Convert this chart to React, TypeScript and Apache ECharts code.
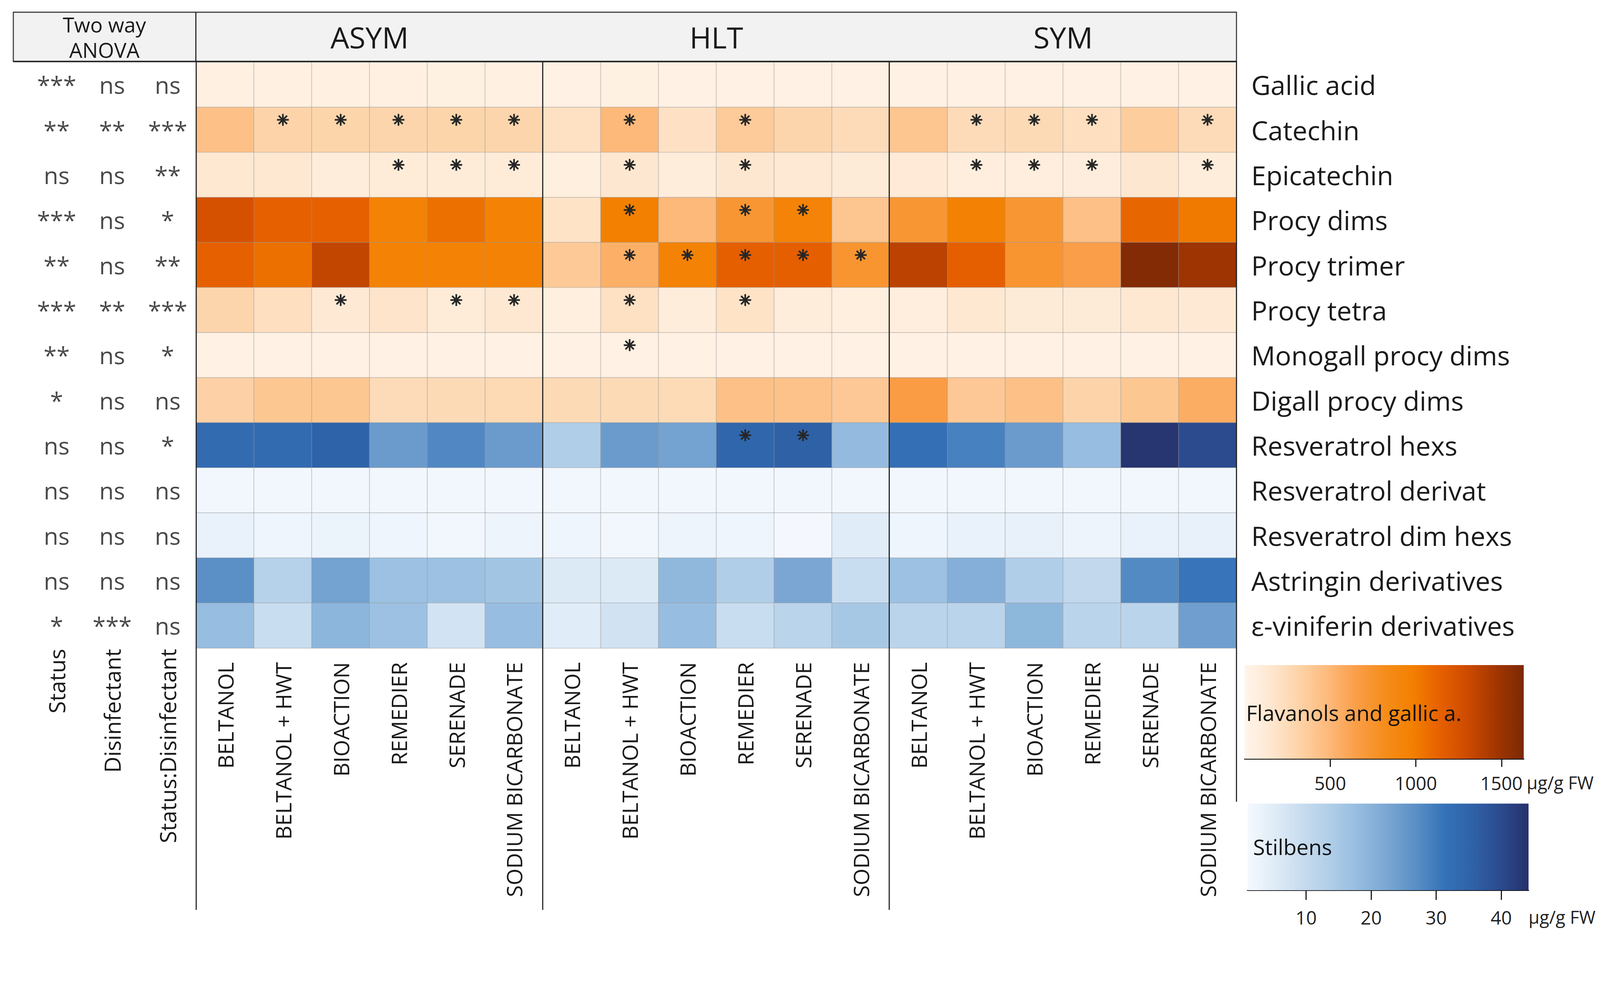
import React, { useEffect, useRef, useState } from "react";
import * as echarts from "echarts";

// ---------- data ----------
const groups = ["ASYM", "HLT", "SYM"];
const treatments = ["BELTANOL", "BELTANOL + HWT", "BIOACTION", "REMEDIER", "SERENADE", "SODIUM BICARBONATE"];
const compounds = [
  "Gallic acid", "Catechin", "Epicatechin", "Procy dims", "Procy trimer", "Procy tetra",
  "Monogall procy dims", "Digall procy dims", "Resveratrol hexs", "Resveratrol derivat",
  "Resveratrol dim hexs", "Astringin derivatives", "ε-viniferin derivatives",
];
const anovaFactors = ["Status", "Disinfectant", "Status:Disinfectant"];

// flavanols (µg/g FW), columns: ASYM x6, HLT x6, SYM x6
const gallicAcid = [50, 52, 50, 50, 48, 50, 45, 48, 46, 47, 45, 46, 46, 47, 46, 45, 46, 47];
const catechin = [440, 310, 305, 300, 305, 300, 210, 490, 200, 370, 300, 250, 410, 250, 260, 220, 360, 250];
const epicatechin = [140, 140, 90, 100, 100, 100, 70, 150, 90, 150, 130, 110, 120, 80, 80, 85, 150, 90];
const procyDims = [1250, 1140, 1140, 950, 1060, 950, 190, 980, 490, 730, 940, 410, 730, 960, 730, 440, 1110, 1010];
const procyTrimer = [1140, 1060, 1340, 950, 950, 950, 380, 550, 950, 1150, 1150, 740, 1370, 1150, 740, 650, 1600, 1490];
const procyTetra = [300, 220, 130, 180, 100, 140, 70, 210, 90, 190, 90, 65, 80, 140, 110, 110, 140, 130];
const monogallProcyDims = [45, 44, 46, 44, 43, 44, 42, 45, 43, 42, 43, 42, 44, 43, 44, 43, 42, 43];
const digallProcyDims = [330, 400, 400, 250, 260, 270, 260, 260, 255, 440, 430, 390, 670, 390, 440, 310, 400, 560];
// stilbenes (µg/g FW)
const resveratrolHexs = [33, 33, 35.4, 24.6, 28, 24.6, 13.5, 24.6, 23.4, 34.5, 35.8, 18.2, 32, 29, 24.6, 17.8, 43.6, 39.7];
const resveratrolDerivat = [1.6, 1.5, 1.5, 1.6, 1.5, 1.5, 1.5, 1.6, 1.5, 1.5, 1.5, 1.6, 1.5, 1.6, 1.5, 1.5, 1.6, 1.5];
const resveratrolDimHexs = [3.2, 2.3, 2.6, 2.3, 1.6, 2.4, 2.2, 1.6, 2.4, 2.3, 1.2, 4.9, 2.2, 3.3, 3.4, 2.5, 3.2, 3.4];
const astringinDerivatives = [26.8, 12.6, 23.4, 16.9, 16.9, 16, 5.7, 5.7, 19, 13.5, 22.5, 9.2, 16.9, 20.8, 13.5, 10.5, 27.7, 31];
const viniferinDerivatives = [17.8, 9.2, 19.4, 16.9, 7.5, 17.8, 4.9, 7.7, 17.8, 9.2, 11.8, 15.2, 11.8, 11.8, 19.2, 11.8, 11.8, 24];

const flavanolRows = [gallicAcid, catechin, epicatechin, procyDims, procyTrimer, procyTetra, monogallProcyDims, digallProcyDims];
const stilbeneRows = [resveratrolHexs, resveratrolDerivat, resveratrolDimHexs, astringinDerivatives, viniferinDerivatives];

// significance asterisks: [row index, column index]
const significantCells = [
  [1, 1], [1, 2], [1, 3], [1, 4], [1, 5], [1, 7], [1, 9], [1, 13], [1, 14], [1, 15], [1, 17],
  [2, 3], [2, 4], [2, 5], [2, 7], [2, 9], [2, 13], [2, 14], [2, 15], [2, 17],
  [3, 7], [3, 9], [3, 10],
  [4, 7], [4, 8], [4, 9], [4, 10], [4, 11],
  [5, 2], [5, 4], [5, 5], [5, 7], [5, 9],
  [6, 7],
  [8, 9], [8, 10],
];

// two-way ANOVA results per compound: Status, Disinfectant, Status:Disinfectant
const anovaStatus = ["***", "**", "ns", "***", "**", "***", "**", "*", "ns", "ns", "ns", "ns", "*"];
const anovaDisinfectant = ["ns", "**", "ns", "ns", "ns", "**", "ns", "ns", "ns", "ns", "ns", "ns", "***"];
const anovaInteraction = ["ns", "***", "**", "*", "**", "***", "*", "ns", "*", "ns", "ns", "ns", "ns"];

const flavanolRange = [0, 1630];
const stilbeneRange = [1, 44.2];
const flavanolTicks = [500, 1000, 1500];
const stilbeneTicks = [10, 20, 30, 40];

const orangePalette = ["#fff5eb", "#fee6ce", "#fdd2a6", "#fdb97a", "#fa9e48", "#f68d1c", "#f38000", "#e66000", "#cc4a00", "#a33600", "#7a2906"];
const bluePalette = ["#f5f9fe", "#deebf7", "#c6dbef", "#aecde7", "#94bbdf", "#7aa6d3", "#5a8fc6", "#3572b8", "#2f62a8", "#2c4a8e", "#26326b"];

const FONT = "Open Sans";
const TXT = "#1a1a1a";
const REF_W = 4322;
const REF_H = 2554;
const ASTERISK = "path://M0,-1L0,1M-1,0L1,0M-0.7071,-0.7071L0.7071,0.7071M-0.7071,0.7071L0.7071,-0.7071";

export default function App() {
  const ref = useRef<HTMLDivElement>(null);
  const [size] = useState(() => {
    document.body.style.margin = "0";
    document.body.style.overflow = "hidden";
    return { w: window.innerWidth || REF_W, h: window.innerHeight || REF_H };
  });

  useEffect(() => {
    if (!ref.current) return;
    const k = Math.min(size.w / REF_W, size.h / REF_H);
    const S = (v: number) => v * k;
    const chart = echarts.init(ref.current, null, { renderer: "svg" });

    const columns: string[] = [];
    groups.forEach((g) => treatments.forEach((t) => columns.push(g + "|" + t)));

    const orangeData: number[][] = [];
    flavanolRows.forEach((row, r) => row.forEach((v, c) => orangeData.push([c, r, v])));
    const blueData: number[][] = [];
    stilbeneRows.forEach((row, r) => row.forEach((v, c) => blueData.push([c, r + flavanolRows.length, v])));

    const anovaData: any[] = [];
    [anovaStatus, anovaDisinfectant, anovaInteraction].forEach((col, i) =>
      col.forEach((txt, r) => anovaData.push({ value: [i, r], name: txt }))
    );

    const stops = (pal: string[]) => pal.map((c, i) => ({ offset: i / (pal.length - 1), color: c }));
    const barRender = (pal: string[]) => (params: any, api: any) => {
      const p0 = api.coord([api.value(0), 0]);
      const p1 = api.coord([api.value(1), 1]);
      return {
        type: "rect",
        shape: { x: p0[0], y: p1[1], width: p1[0] - p0[0], height: p0[1] - p1[1] },
        style: { fill: new echarts.graphic.LinearGradient(0, 0, 1, 0, stops(pal)) },
      };
    };

    const hidden = { show: false };
    const line = (x1: number, y1: number, x2: number, y2: number, w = 3) => ({
      type: "line",
      shape: { x1: S(x1), y1: S(y1), x2: S(x2), y2: S(y2) },
      style: { stroke: "#222", lineWidth: S(w) },
      z: 10,
    });
    const grid = (left: number, top: number, width: number, height: number) => ({
      left: S(left), top: S(top), width: S(width), height: S(height), containLabel: false, outerBoundsMode: "none",
    });

    const option: any = {
      animation: false,
      backgroundColor: "#ffffff",
      textStyle: { fontFamily: FONT },
      grid: [
        grid(530, 168, 2810, 1582),
        grid(78, 168, 450, 1582),
        grid(3362, 1796, 754, 253),
        grid(3370, 2170, 759, 234),
      ],
      xAxis: [
        {
          type: "category", gridIndex: 0, data: columns, position: "bottom",
          axisLine: hidden, axisTick: hidden, splitLine: hidden,
          axisLabel: {
            interval: 0, rotate: 90, margin: S(38), fontSize: S(58), color: TXT, fontFamily: FONT,
            formatter: (v: string) => v.split("|")[1],
          },
        },
        {
          type: "category", gridIndex: 0, data: groups, position: "top",
          axisLine: hidden, axisTick: hidden, splitLine: hidden, z: 20,
          axisLabel: { interval: 0, margin: S(68), fontSize: S(80), color: TXT, fontFamily: FONT, verticalAlign: "middle" },
        },
        {
          type: "category", gridIndex: 1, data: anovaFactors, position: "bottom",
          axisLine: hidden, axisTick: hidden, splitLine: hidden,
          axisLabel: { interval: 0, rotate: 90, margin: S(2), fontSize: S(60), color: TXT, fontFamily: FONT },
        },
        {
          type: "value", gridIndex: 2, min: flavanolRange[0], max: flavanolRange[1],
          splitLine: hidden,
          axisLine: { show: true, lineStyle: { color: "#111", width: S(3) } },
          axisTick: { show: true, length: S(22), lineStyle: { color: "#111", width: S(3) }, customValues: flavanolTicks },
          axisLabel: {
            customValues: flavanolTicks, fontSize: S(50), margin: S(40), color: "#222", fontFamily: FONT,
            formatter: (v: number) => String(v),
          },
          name: "μg/g FW", nameLocation: "end", nameGap: S(8),
          nameTextStyle: { fontSize: S(48), color: "#222", fontFamily: FONT, align: "left", verticalAlign: "top", padding: [S(40), 0, 0, 0] },
        },
        {
          type: "value", gridIndex: 3, min: stilbeneRange[0], max: stilbeneRange[1],
          splitLine: hidden,
          axisLine: { show: true, lineStyle: { color: "#111", width: S(3) } },
          axisTick: { show: true, length: S(26), lineStyle: { color: "#111", width: S(3) }, customValues: stilbeneTicks },
          axisLabel: {
            customValues: stilbeneTicks, fontSize: S(50), margin: S(48), color: "#222", fontFamily: FONT,
            formatter: (v: number) => String(v),
          },
          name: "μg/g FW", nameLocation: "end", nameGap: 0,
          nameTextStyle: { fontSize: S(48), color: "#222", fontFamily: FONT, align: "left", verticalAlign: "top", padding: [S(48), 0, 0, 0] },
        },
      ],
      yAxis: [
        {
          type: "category", gridIndex: 0, data: compounds, inverse: true, position: "right",
          axisLine: hidden, axisTick: hidden, splitLine: hidden,
          axisLabel: { interval: 0, margin: S(40), fontSize: S(72), color: TXT, fontFamily: FONT },
        },
        {
          type: "category", gridIndex: 1, data: compounds, inverse: true,
          axisLine: hidden, axisTick: hidden, splitLine: hidden, axisLabel: hidden,
        },
        { type: "value", gridIndex: 2, min: 0, max: 1, show: false },
        { type: "value", gridIndex: 3, min: 0, max: 1, show: false },
      ],
      visualMap: [
        {
          type: "continuous", show: false, seriesIndex: 0, dimension: 2,
          min: flavanolRange[0], max: flavanolRange[1], inRange: { color: orangePalette },
        },
        {
          type: "continuous", show: false, seriesIndex: 1, dimension: 2,
          min: stilbeneRange[0], max: stilbeneRange[1], inRange: { color: bluePalette },
        },
      ],
      series: [
        {
          name: "Flavanols and gallic a.", type: "heatmap", xAxisIndex: 0, yAxisIndex: 0, data: orangeData,
          itemStyle: { borderColor: "rgba(150,150,150,0.45)", borderWidth: S(2) },
          emphasis: { disabled: true },
        },
        {
          name: "Stilbens", type: "heatmap", xAxisIndex: 0, yAxisIndex: 0, data: blueData,
          itemStyle: { borderColor: "rgba(150,150,150,0.45)", borderWidth: S(2) },
          emphasis: { disabled: true },
        },
        {
          type: "scatter", xAxisIndex: 0, yAxisIndex: 0, z: 5,
          symbol: ASTERISK, symbolSize: S(32), symbolOffset: [0, S(-27)],
          data: significantCells.map(([r, c]) => [c, r]),
          itemStyle: { color: "transparent", borderColor: "#262626", borderWidth: S(4.5), opacity: 1 },
          emphasis: { disabled: true }, silent: true,
        },
        {
          type: "scatter", xAxisIndex: 2, yAxisIndex: 1, symbolSize: 0,
          data: anovaData,
          label: { show: true, formatter: "{b}", fontSize: S(64), fontFamily: FONT, color: TXT, position: "inside" },
          emphasis: { disabled: true }, silent: true,
        },
        {
          type: "custom", xAxisIndex: 3, yAxisIndex: 2, data: [flavanolRange],
          renderItem: barRender(orangePalette), silent: true,
        },
        {
          type: "custom", xAxisIndex: 4, yAxisIndex: 3, data: [stilbeneRange],
          renderItem: barRender(bluePalette), silent: true,
        },
      ],
      graphic: [
        {
          type: "rect", shape: { x: S(36), y: S(33), width: S(3304), height: S(133) },
          style: { fill: "#f2f2f2", stroke: "#404040", lineWidth: S(3) }, z: -10,
        },
        line(529, 33, 529, 166),
        line(36, 166, 3340, 166, 4),
        line(530, 166, 530, 2457),
        line(1466, 166, 1466, 2457),
        line(2402, 166, 2402, 2457),
        line(3340, 166, 3340, 2165),
        {
          type: "text", x: S(282), y: S(66), z: 11,
          style: { text: "Two way", fontSize: S(56), fontFamily: FONT, fill: TXT, align: "center", verticalAlign: "middle" },
        },
        {
          type: "text", x: S(282), y: S(135), z: 11,
          style: { text: "ANOVA", fontSize: S(56), fontFamily: FONT, fill: TXT, align: "center", verticalAlign: "middle" },
        },
        {
          type: "text", x: S(3366), y: S(1924), z: 11,
          style: { text: "Flavanols and gallic a.", fontSize: S(58), fontFamily: FONT, fill: "#111", verticalAlign: "middle" },
        },
        {
          type: "text", x: S(3385), y: S(2286), z: 11,
          style: { text: "Stilbens", fontSize: S(58), fontFamily: FONT, fill: "#111", verticalAlign: "middle" },
        },
      ],
    };

    chart.setOption(option);
    return () => chart.dispose();
  }, [size]);

  return <div ref={ref} style={{ width: size.w, height: size.h }} />;
}
